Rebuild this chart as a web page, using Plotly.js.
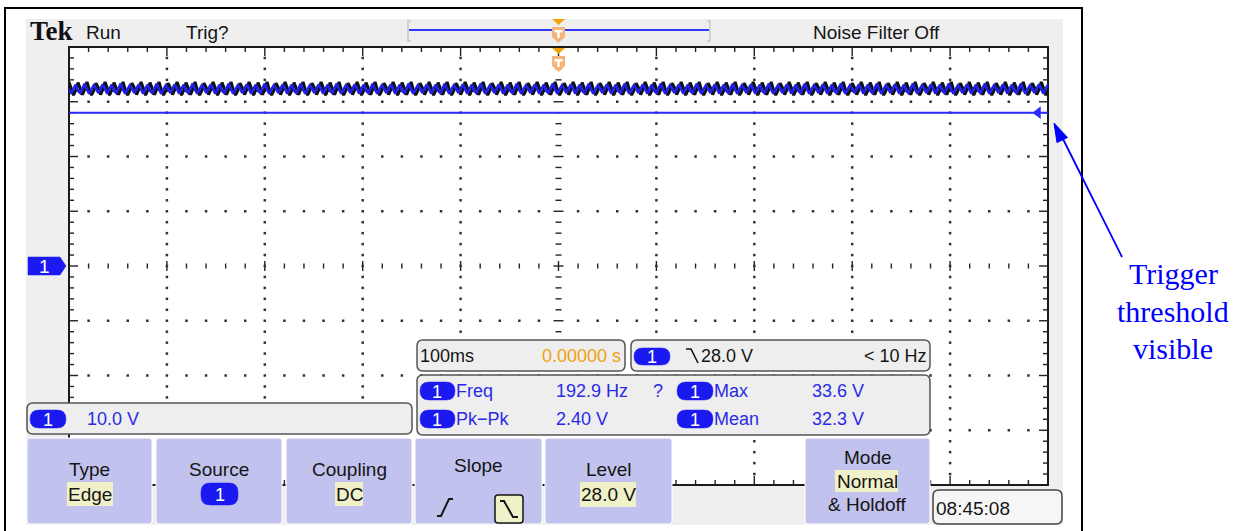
<!DOCTYPE html>
<html>
<head>
<meta charset="utf-8">
<script src="https://cdn.plot.ly/plotly-3.0.1.min.js"></script>
<style>html,body{margin:0;padding:0;background:#fff;}#chart{width:1248px;height:531px;}</style>
</head>
<body>
<div id="chart"></div>
<script>
const timePerDiv = 0.1;          // s/div (100ms)
const voltsPerDiv = 10.0;        // V/div (10.0 V)
const hDivs = 10, vDivs = 8;
const triggerLevel = 28.0;       // V
const measLabels = ["Freq", "Pk\u2212Pk", "Max", "Mean"];
const measValues = ["192.9 Hz", "2.40 V", "33.6 V", "32.3 V"];
// visible ripple pattern of the trace (volts), black envelope and blue core
const blackCycle = [33.6, 32.5, 31.2, 32.1, 33.5, 32.4, 31.3, 32.3, 33.6, 32.2, 31.2, 32.0, 33.4, 32.6, 31.3, 32.2];
const blueCycle  = [33.2, 32.3, 31.5, 32.4, 33.1, 32.0, 31.6, 32.5, 33.3, 32.2, 31.5, 32.3, 33.0, 32.4, 31.6, 32.4];
const tracePoints = 436;         // screen samples across 10 divisions
const buttonTitles = ["Type", "Source", "Coupling", "Slope", "Level", "Mode"];
const buttonValues = ["Edge", "1", "DC", "", "28.0 V", "Normal"];

// ---------- helpers ----------
const W = 1248, H = 531;
const px = x => x / W;
const py = y => 1 - y / H;
const G = {x0: 69, x1: 1048, y0: 47, y1: 485};
const sPx = (hDivs * timePerDiv) / (G.x1 - G.x0);
const vPx = (vDivs * voltsPerDiv) / (G.y1 - G.y0);
const tMin = -hDivs * timePerDiv / 2, tMax = hDivs * timePerDiv / 2;
const vMin = -vDivs * voltsPerDiv / 2, vMax = vDivs * voltsPerDiv / 2;
const SANS = "Liberation Sans, Arial, sans-serif";
const SERIF = "Liberation Serif, Times New Roman, serif";

const shapes = [], annotations = [];
function f(x, y) { return px(x) + "," + py(y); }
function rect(x0, y0, x1, y1, fill, line, lw, layer) {
  shapes.push({type: "rect", xref: "paper", yref: "paper", x0: px(x0), x1: px(x1), y0: py(y1), y1: py(y0),
    fillcolor: fill || "rgba(0,0,0,0)", line: {color: line || "rgba(0,0,0,0)", width: lw || 0}, layer: layer || "above"});
}
function rrect(x0, y0, x1, y1, r, fill, line, lw, layer) {
  r = Math.min(r, (x1 - x0) / 2, (y1 - y0) / 2);
  const p = `M${f(x0 + r, y0)} L${f(x1 - r, y0)} Q${f(x1, y0)} ${f(x1, y0 + r)} L${f(x1, y1 - r)} Q${f(x1, y1)} ${f(x1 - r, y1)} L${f(x0 + r, y1)} Q${f(x0, y1)} ${f(x0, y1 - r)} L${f(x0, y0 + r)} Q${f(x0, y0)} ${f(x0 + r, y0)} Z`;
  shapes.push({type: "path", xref: "paper", yref: "paper", path: p, fillcolor: fill || "rgba(0,0,0,0)",
    line: {color: line || "rgba(0,0,0,0)", width: lw || 0}, layer: layer || "above"});
}
function poly(pts, fill, line, lw, closed, layer) {
  let p = "M" + pts.map(q => f(q[0], q[1])).join(" L");
  if (closed) p += " Z";
  shapes.push({type: "path", xref: "paper", yref: "paper", path: p, fillcolor: fill || "rgba(0,0,0,0)",
    line: {color: line || "rgba(0,0,0,0)", width: lw || 0}, layer: layer || "above"});
}
function text(x, y, s, o) {
  o = o || {};
  annotations.push({xref: "paper", yref: "paper", x: px(x), y: py(y), text: s, showarrow: false,
    xanchor: o.anchor || "left", yanchor: "middle", borderpad: 0,
    font: {family: o.family || SANS, size: o.size || 19, color: o.color || "#151515"}});
}
function pill(x0, y0, x1, y1) {
  rrect(x0, y0, x1, y1, 9, "#1a1af0", "#1a1af0", 0.5);
  text((x0 + x1) / 2, (y0 + y1) / 2 + 0.5, "1", {anchor: "center", size: 18, color: "#ffffff"});
}

// ---------- background frame ----------
rect(5, 8, 1082, 545, "#ffffff", "#000000", 2, "below");
rect(26, 19, 1063, 525, "#efefef", null, 0, "below");
rect(G.x0, G.y0, G.x1, G.y1, "#ffffff", "#1a1a1a", 2, "below");

// top bar
text(29, 31, "<b>Tek</b>", {family: SERIF, size: 27, color: "#111"});
text(85, 33, "Run", {size: 19});
text(185, 33, "Trig?", {size: 19});
text(812, 33, "Noise Filter Off", {size: 19});
poly([[411, 21], [408, 21], [408, 41], [411, 41]], null, "#c8c8c8", 1.5, false);
poly([[707, 21], [710, 21], [710, 41], [707, 41]], null, "#c8c8c8", 1.5, false);
poly([[409, 30], [709, 30]], null, "#3434ff", 2, false);
// trigger position markers
function trigPin(yTop) {
  poly([[552, yTop], [565, yTop], [558.5, yTop + 6]], "#f5a20a", null, 0, true);
  poly([[552, yTop + 8], [565, yTop + 8], [565, yTop + 18], [558.5, yTop + 24], [552, yTop + 18]], "#f5b47a", null, 0, true);
  rect(554.5, yTop + 11, 562.5, yTop + 13.5, "#ffffff");
  rect(557.3, yTop + 13, 559.7, yTop + 19, "#ffffff");
}
trigPin(19);
trigPin(48);

// channel ground marker
poly([[28, 257], [60, 257], [66, 266], [60, 275], [28, 275]], "#1a1af0", "#1a1af0", 0.5, true);
text(44, 266.5, "1", {anchor: "center", size: 19, color: "#ffffff"});

// readout boxes
rrect(417, 340, 625, 371, 6, "#eeeeee", "#555555", 1.5);
text(419, 356, "100ms", {size: 18});
text(622, 356, "0.00000 s", {anchor: "right", size: 18, color: "#f0a010"});
rrect(631, 340, 930, 371, 6, "#eeeeee", "#555555", 1.5);
pill(634, 348, 670, 365);
poly([[686, 349], [691, 349], [698, 363]], null, "#151515", 1.6, false);
text(700, 356, triggerLevel.toFixed(1) + " V", {size: 18});
text(928, 356, "&lt; 10 Hz", {anchor: "right", size: 18});
rrect(417, 375, 930, 435, 6, "#eeeeee", "#555555", 1.5);
const rowsY = [391, 419];
const colX = [[420, 454, 555], [677, 712, 811]];
for (let i = 0; i < 4; i++) {
  const col = i < 2 ? 0 : 1, row = i % 2;
  const y = rowsY[row];
  pill(colX[col][0], y - 9, colX[col][1] + 1, y + 9);
  text(colX[col][1] + 1, y, measLabels[i], {size: 18, color: "#2a2ae6"});
  text(colX[col][2], y, measValues[i], {size: 18, color: "#2a2ae6"});
}
text(658, 391, "?", {anchor: "center", size: 18, color: "#2a2ae6"});
rrect(27, 403, 412, 434, 6, "#eeeeee", "#555555", 1.5);
pill(30, 410, 66, 428);
text(86, 419, voltsPerDiv.toFixed(1) + " V", {size: 18, color: "#2a2ae6"});

// bottom buttons
const btnX = [[27, 152], [156, 282], [286, 412], [415, 542], [545, 672], [805, 930]];
for (let i = 0; i < 6; i++) {
  rrect(btnX[i][0], 438, btnX[i][1], 524, 3, "#c2c2ee", "#ffffff", 1);
}
const hl = "#f1f1c9";
function btnCenter(i) { return (btnX[i][0] + btnX[i][1]) / 2; }
text(btnCenter(0), 469, buttonTitles[0], {anchor: "center"});
rect(67, 482, 113, 506, hl); text(btnCenter(0), 494, buttonValues[0], {anchor: "center"});
text(btnCenter(1), 469, buttonTitles[1], {anchor: "center"});
pill(201, 483, 238, 505);
text(btnCenter(2), 469, buttonTitles[2], {anchor: "center"});
rect(335, 482, 363, 506, hl); text(349, 494, buttonValues[2], {anchor: "center"});
text(btnCenter(3), 465, buttonTitles[3], {anchor: "center"});
poly([[437, 516], [441, 516], [449, 499], [453, 499]], null, "#151515", 2, false);
rrect(495, 495, 523, 523, 3, hl, "#151515", 1.5);
poly([[500, 501], [504, 501], [513, 517], [518, 517]], null, "#151515", 2, false);
text(btnCenter(4), 469, buttonTitles[4], {anchor: "center"});
rect(580, 482, 636, 507, hl); text(608, 494, buttonValues[4], {anchor: "center"});
text(btnCenter(5), 457, buttonTitles[5], {anchor: "center"});
rect(835, 470, 898, 492, hl); text(867, 481, buttonValues[5], {anchor: "center"});
text(867, 504, "&amp; Holdoff", {anchor: "center"});
rrect(933, 490, 1062, 524, 6, "#f6f6f6", "#444444", 1.5);
text(935, 508, "08:45:08", {size: 19});

// outside annotation
const ac = "#0000ff";
poly([[1122, 257], [1060, 133]], null, ac, 1.8, false);
poly([[1054, 123], [1067.5, 137.5], [1057, 142.5]], ac, ac, 1, true);
text(1173, 274, "Trigger", {anchor: "center", family: SERIF, size: 30, color: ac});
text(1173, 311, "threshold", {anchor: "center", family: SERIF, size: 30, color: ac});
text(1173, 348, "visible", {anchor: "center", family: SERIF, size: 30, color: ac});

// ---------- graticule (drawn through the axes) ----------
const tx = [], ty = [];
function seg(x0, y0, x1, y1) { tx.push(x0, x1, null); ty.push(y0, y1, null); }
const minorT = timePerDiv / 5, minorV = voltsPerDiv / 5;
for (let k = 1; k < hDivs * 5; k++) {
  const x = tMin + k * minorT, maj = k % 5 === 0;
  const L = (maj ? 9 : 5) * vPx;
  seg(x, vMax, x, vMax - L);
  seg(x, vMin, x, vMin + L);
  const c = (maj ? 5 : 2.5) * vPx;
  seg(x, -c, x, c);
}
for (let j = 1; j < vDivs * 5; j++) {
  const y = vMin + j * minorV, maj = j % 5 === 0;
  const L = (maj ? 9 : 5) * sPx;
  seg(tMin, y, tMin + L, y);
  seg(tMax, y, tMax - L, y);
  const c = (maj ? 5 : 3) * sPx;
  seg(-c, y, c, y);
}
const dx = [], dy = [];
for (let m = 1; m < hDivs; m++) {
  if (m === hDivs / 2) continue;
  for (let j = 1; j < vDivs * 5; j++) { dx.push(tMin + m * timePerDiv); dy.push(vMin + j * minorV); }
}
for (let m = 1; m < vDivs; m++) {
  if (m === vDivs / 2) continue;
  for (let k = 1; k < hDivs * 5; k++) { if (k % 5 === 0) continue; dx.push(tMin + k * minorT); dy.push(vMin + m * voltsPerDiv); }
}

// waveform samples
const wx = [], wyB = [], wyU = [];
for (let i = 0; i < tracePoints; i++) {
  wx.push(tMin + (tMax - tMin) * i / (tracePoints - 1));
  wyB.push(blackCycle[i % blackCycle.length]);
  wyU.push(blueCycle[(i + 1) % blueCycle.length]);
}

const traces = [
  {x: tx, y: ty, mode: "lines", line: {color: "#222222", width: 1.4}, hoverinfo: "skip"},
  {x: dx, y: dy, mode: "markers", marker: {symbol: "square", size: 2.5, color: "#333333", line: {width: 0}}, hoverinfo: "skip"},
  {x: [tMin, tMax], y: [triggerLevel, triggerLevel], mode: "lines", line: {color: "#2a2aff", width: 2}, hoverinfo: "skip"},
  {x: [tMax - 10 * sPx], y: [triggerLevel], mode: "markers", marker: {symbol: "triangle-left", size: 11, color: "#2a2aff"}, hoverinfo: "skip"},
  {x: wx, y: wyB, mode: "lines", line: {color: "#111111", width: 3}, hoverinfo: "skip"},
  {x: wx, y: wyU, mode: "lines", line: {color: "#2020ee", width: 2.6}, hoverinfo: "skip"}
];

const layout = {
  width: W, height: H,
  margin: {l: 0, r: 0, t: 0, b: 0, pad: 0},
  paper_bgcolor: "#ffffff", plot_bgcolor: "rgba(0,0,0,0)",
  showlegend: false,
  xaxis: {domain: [px(G.x0), px(G.x1)], range: [tMin, tMax], visible: false, fixedrange: true},
  yaxis: {domain: [py(G.y1), py(G.y0)], range: [vMin, vMax], visible: false, fixedrange: true},
  shapes: shapes,
  annotations: annotations
};
Plotly.newPlot("chart", traces, layout, {staticPlot: true, displayModeBar: false});
</script>
</body>
</html>
